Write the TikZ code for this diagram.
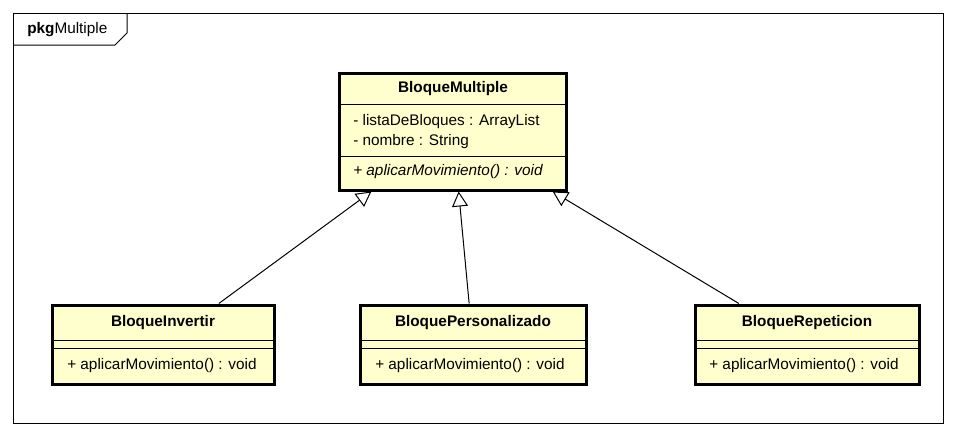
\documentclass[tikz,border=0pt]{standalone}
\usepackage{fontspec}
\setmainfont{Liberation Sans}
\usetikzlibrary{arrows.meta,positioning}
\definecolor{classfill}{HTML}{FFFFCE}
\tikzset{
  classbox/.style={draw, line width=2.25pt, fill=classfill, inner sep=0pt},
  sepline/.style={black, line width=0.75pt},
  ctitle/.style={font=\fontsize{11.5}{13}\selectfont\bfseries, inner sep=0pt},
  cmember/.style={anchor=west, inner sep=0pt},
  inherit/.style={black, line width=0.75pt, -{Triangle[open, length=11.25pt, width=12pt]}},
  pkgframe/.style={black, line width=0.75pt}
}

\begin{document}
\begin{tikzpicture}[x=0.75pt, y=-0.75pt, font=\fontsize{11.5}{13}\selectfont]
\useasboundingbox (0,0) rectangle (957,436);
% package frame
\draw[pkgframe] (13,13) rectangle (943,423);
\draw[pkgframe] (13,45) -- (115,45) -- (127,33) -- (127,13);
\node[anchor=west, inner sep=0pt] (pkg) at (27,30) {\textbf{pkg}Multiple};
% superclass
\node[classbox, minimum width=170.25pt, minimum height=87.75pt] (bm) at (453,131.5) {};
\draw[sepline] (bm.west |- 0,104) -- (bm.east |- 0,104);
\draw[sepline] (bm.west |- 0,156) -- (bm.east |- 0,156);
\node[ctitle] (bmt) at (453,89) {BloqueMultiple};
\node[cmember] (bma) at (353,122) {- listaDeBloques : ArrayList};
\node[cmember] (bmb) at (353,142) {- nombre : String};
\node[cmember] (bmm) at (353,172) {\itshape + aplicarMovimiento() : void};
% subclasses
\node[classbox, minimum width=166.5pt, minimum height=59.25pt] (bi) at (163,344.5) {};
\draw[sepline] (bi.west |- 0,340) -- (bi.east |- 0,340);
\draw[sepline] (bi.west |- 0,348) -- (bi.east |- 0,348);
\node[ctitle] (bit) at (163,323) {BloqueInvertir};
\node[cmember] (bim) at (67,366) {+ aplicarMovimiento() : void};
\node[classbox, minimum width=169.5pt, minimum height=59.25pt] (bp) at (473,344.5) {};
\draw[sepline] (bp.west |- 0,340) -- (bp.east |- 0,340);
\draw[sepline] (bp.west |- 0,348) -- (bp.east |- 0,348);
\node[ctitle] (bpt) at (473,323) {BloquePersonalizado};
\node[cmember] (bpm) at (375,366) {+ aplicarMovimiento() : void};
\node[classbox, minimum width=168pt, minimum height=59.25pt] (br) at (807,344.5) {};
\draw[sepline] (br.west |- 0,340) -- (br.east |- 0,340);
\draw[sepline] (br.west |- 0,348) -- (br.east |- 0,348);
\node[ctitle] (brt) at (807,323) {BloqueRepeticion};
\node[cmember] (brm) at (709,366) {+ aplicarMovimiento() : void};
% generalizations
\draw[inherit] (bi) -- (bm);
\draw[inherit] (bp) -- (bm);
\draw[inherit] (br) -- (bm);
\end{tikzpicture}
\end{document}
